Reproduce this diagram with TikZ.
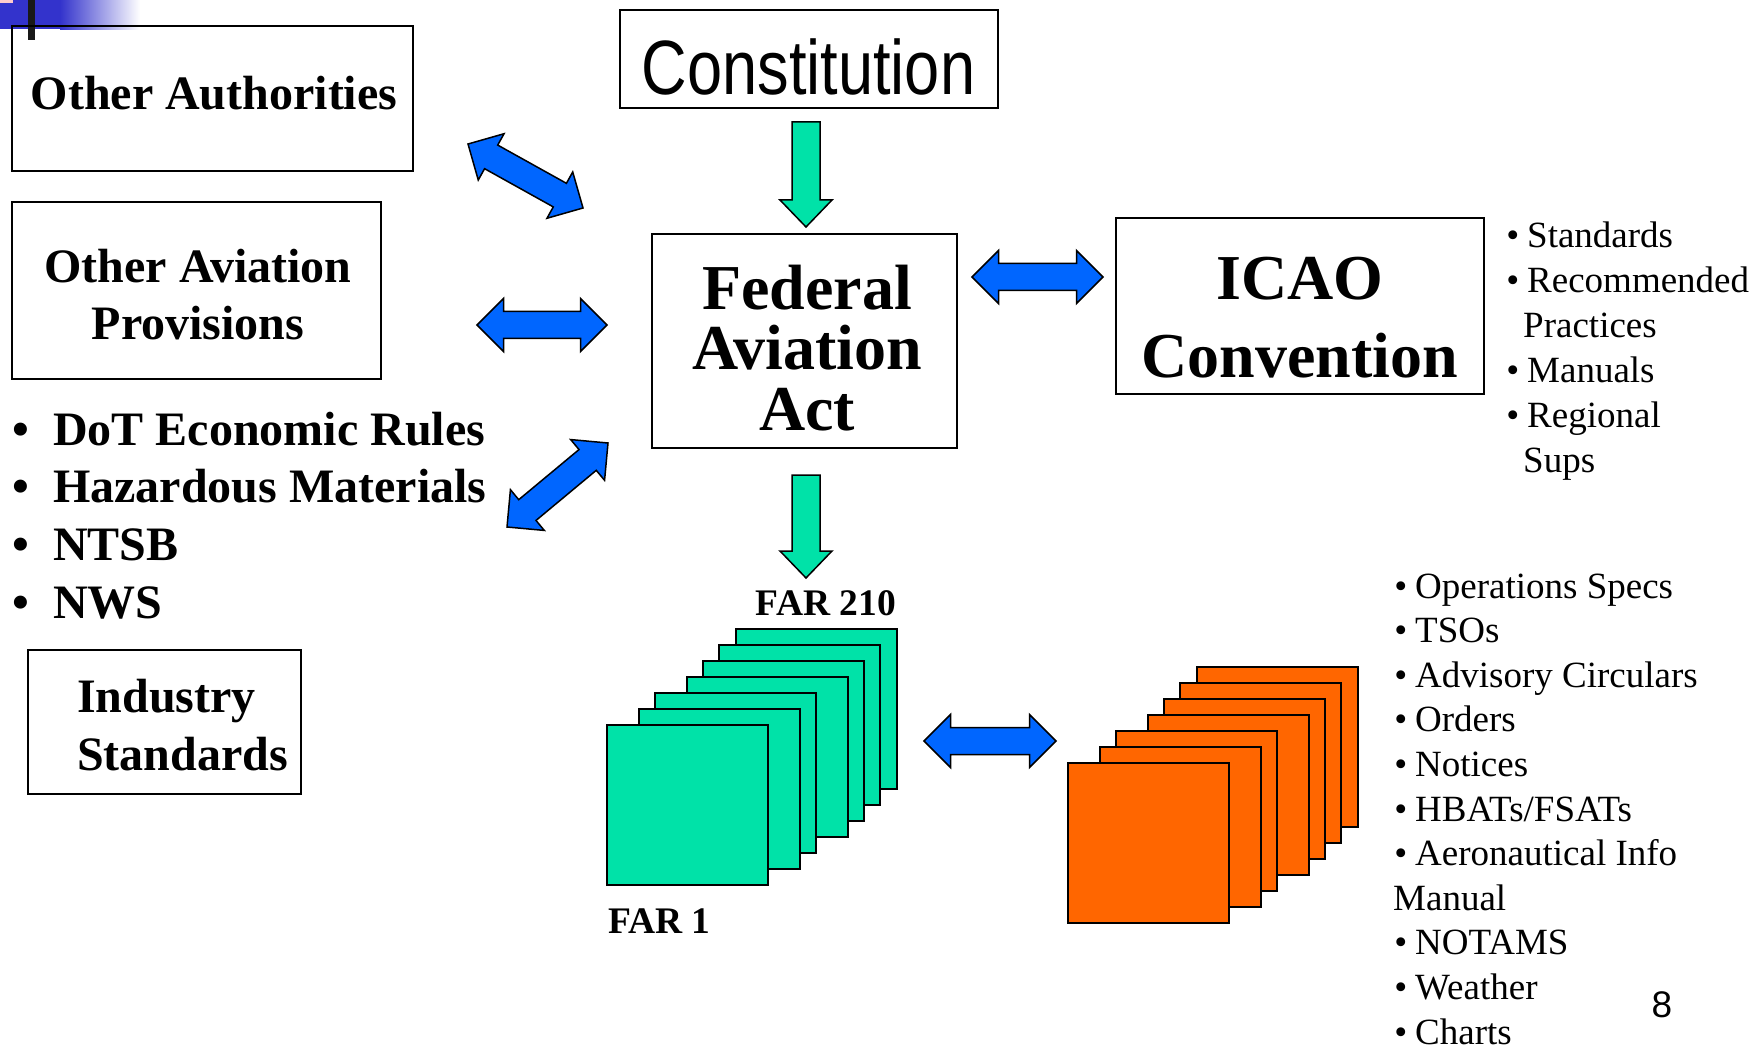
\documentclass[tikz,border=0pt]{standalone}
\usepackage{fontspec}
\setmainfont{Liberation Serif}
\newfontfamily\narrowsans{Liberation Sans}[FakeStretch=0.82]
\newfontfamily\pagesans{Liberation Sans}
\usetikzlibrary{calc}

\definecolor{arrowblue}{RGB}{0,102,255}
\definecolor{fargreen}{RGB}{0,226,168}
\definecolor{guideorange}{RGB}{255,102,0}
\definecolor{decoblue}{RGB}{51,51,204}
\definecolor{decopink}{RGB}{255,204,204}

\tikzset{
	box/.style={draw, line width=2pt, inner sep=0pt},
	heading/.style={font=\fontsize{48}{57.5}\selectfont\bfseries, align=center, inner sep=0pt, anchor=base},
	lawitem/.style={font=\fontsize{48}{57.5}\selectfont\bfseries, inner sep=0pt, anchor=base west},
	note/.style={font=\fontsize{37}{44}\selectfont, inner sep=0pt, anchor=base west},
	sheet/.style={draw, line width=1.5pt, minimum width=161, minimum height=160, inner sep=0pt},
	fatarrow/.style={draw, line width=1.5pt, line join=miter, fill=arrowblue}
}

\newcommand{\dotmark}{\makebox[0pt][r]{\textbullet\hspace{8pt}}}
% fat double arrow from tip to tip
\newcommand{\twoway}[2]{%
	\draw[fatarrow] (#1) -- ($(#1)!26.5pt!(#2)!26.5pt!90:(#2)$) -- ($(#1)!26.5pt!(#2)!13.5pt!90:(#2)$)
		-- ($(#2)!26.5pt!(#1)!13.5pt!-90:(#1)$) -- ($(#2)!26.5pt!(#1)!26.5pt!-90:(#1)$) -- (#2)
		-- ($(#2)!26.5pt!(#1)!26.5pt!90:(#1)$) -- ($(#2)!26.5pt!(#1)!13.5pt!90:(#1)$)
		-- ($(#1)!26.5pt!(#2)!13.5pt!-90:(#2)$) -- ($(#1)!26.5pt!(#2)!26.5pt!-90:(#2)$) -- cycle;}
% fat single arrow from tail to tip
\newcommand{\oneway}[2]{%
	\draw[fatarrow, fill=fargreen] (#2) -- ($(#2)!27pt!(#1)!26pt!90:(#1)$) -- ($(#2)!27pt!(#1)!14pt!90:(#1)$)
		-- ($(#1)!14pt!-90:(#2)$) -- ($(#1)!14pt!90:(#2)$)
		-- ($(#2)!27pt!(#1)!14pt!-90:(#1)$) -- ($(#2)!27pt!(#1)!26pt!-90:(#1)$) -- cycle;}

\begin{document}
\begin{tikzpicture}[x=1pt, y=-1pt]
	\useasboundingbox (0,0) rectangle (1759,1048);

	% slide corner
	\fill[decoblue] (0,0) rectangle (60,29);
	\shade[left color=decoblue, right color=white] (60,0) rectangle (140,30);
	\fill[decopink] (0,0) rectangle (13,3.5);
	\fill[black!90] (28,0) rectangle (35,40);

	% boxes
	\node[box, minimum width=401, minimum height=145] (auth) at (212.5,98.5) {};
	\node[box, minimum width=369, minimum height=177] (prov) at (196.5,290.5) {};
	\node[box, minimum width=273, minimum height=144] (indus) at (164.5,722) {};
	\node[box, minimum width=378, minimum height=98] (const) at (809,59) {};
	\node[box, minimum width=305, minimum height=214] (faa) at (804.5,341) {};
	\node[box, minimum width=368, minimum height=176] (icao) at (1300,306) {};

	% texts sit on the baseline of their last line
	\node[heading] (authtext) at (214,110) {Other Authorities};
	\node[heading] (provtext) at (198,340) {Other Aviation\\Provisions};
	\node[heading, anchor=base west, align=left] (industext) at (77,770) {Industry\\Standards};
	\node[inner sep=0pt, anchor=base, font=\narrowsans\fontsize{77}{80}\selectfont] (consttext) at (808.5,95) {Constitution};
	\node[heading, font=\fontsize{64}{60}\selectfont\bfseries] (faatext) at (807,430) {Federal\\Aviation\\Act};
	\node[heading, font=\fontsize{64}{78}\selectfont\bfseries] (icaotext) at (1300,378) {ICAO\\Convention};

	% other laws
	\foreach \txt [count=\i from 0] in {DoT Economic Rules, Hazardous Materials, NTSB, NWS}
		\node[lawitem] (law\i) at (53,445+57.7*\i) {\makebox[0pt][r]{\textbullet\hspace{24pt}}\txt};

	% ICAO documents
	\foreach \txt [count=\i from 0] in {\dotmark Standards, \dotmark Recommended, \hspace*{-4pt}Practices, \dotmark Manuals, \dotmark Regional, \hspace*{-4pt}Sups}
		\node[note] (icaodoc\i) at (1527,248+44.9*\i) {\txt};

	% FAA guidance
	\foreach \txt [count=\i from 0] in {\dotmark Operations Specs, \dotmark TSOs, \dotmark Advisory Circulars, \dotmark Orders, \dotmark Notices, \dotmark HBATs/FSATs, \dotmark Aeronautical Info, \hspace*{-22pt}Manual, \dotmark NOTAMS, \dotmark Weather, \dotmark Charts}
		\node[note] (guide\i) at (1415,598+44.6*\i) {\txt};

	% FAR stack and guidance stack
	\foreach \dx/\dy [count=\i] in {129/96, 112/80, 96/64, 80/48, 48/32, 32/16, 0/0} {
		\node[sheet, fill=fargreen] (far\i) at (687.5+\dx,805-\dy) {};
		\node[sheet, fill=guideorange] (ac\i) at (1148.5+\dx,843-\dy) {};
	}
	\node[lawitem, anchor=base east, font=\fontsize{37.5}{43}\selectfont\bfseries] (farlast) at (896,615) {FAR 210};
	\node[lawitem, font=\fontsize{37.5}{43}\selectfont\bfseries] (farfirst) at (608,933) {FAR 1};

	\node[inner sep=0pt, anchor=base, font=\pagesans\fontsize{37}{40}\selectfont] (pagenum) at (1662,1017) {8};

	% arrows
	\coordinate (downA) at (806,122);
	\coordinate (downB) at (806,227);
	\coordinate (downC) at (806,475);
	\coordinate (downD) at (806,578);
	\oneway{downA}{downB}
	\oneway{downC}{downD}

	\coordinate (authL) at (468,144);
	\coordinate (authR) at (583,208);
	\coordinate (provL) at (477,325);
	\coordinate (provR) at (607,325);
	\coordinate (lawL) at (507,527);
	\coordinate (lawR) at (608,443);
	\coordinate (icaoL) at (972,277);
	\coordinate (icaoR) at (1103,277);
	\coordinate (stackL) at (924,741);
	\coordinate (stackR) at (1056,741);
	\twoway{authL}{authR}
	\twoway{provL}{provR}
	\twoway{lawL}{lawR}
	\twoway{icaoL}{icaoR}
	\twoway{stackL}{stackR}
\end{tikzpicture}
\end{document}
